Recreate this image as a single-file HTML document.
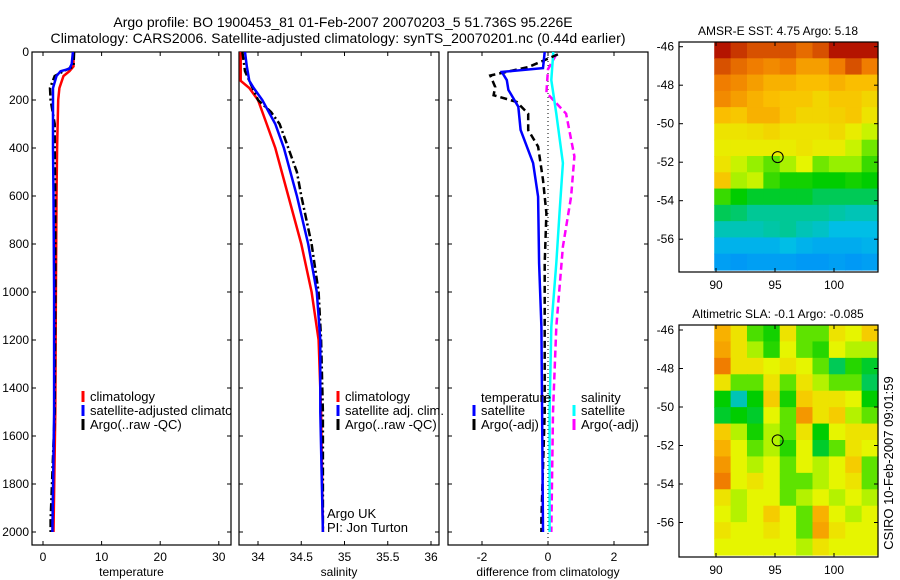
<!DOCTYPE html>
<html><head><meta charset="utf-8"><style>
html,body{margin:0;padding:0;background:#fff;}
svg{display:block;font-family:"Liberation Sans",sans-serif;}
</style></head><body>
<svg id="fig" width="900" height="580" viewBox="0 0 900 580">
<defs><clipPath id="clip1"><rect x="32" y="52" width="199" height="493"/></clipPath></defs>
<text x="343" y="27" font-size="14" text-anchor="middle">Argo profile: BO 1900453_81 01-Feb-2007 20070203_5 51.736S 95.226E</text>
<text x="338" y="43" font-size="14" text-anchor="middle" textLength="575">Climatology: CARS2006. Satellite-adjusted climatology: synTS_20070201.nc (0.44d earlier)</text>
<g id="g1"></g>
<g id="g1l" clip-path="url(#clip1)"></g>
<g id="g2"></g>
<g id="g3"></g>
<g id="m1"></g>
<g id="m2"></g>
<text transform="translate(893,463) rotate(-90)" font-size="13" text-anchor="middle">CSIRO 10-Feb-2007 09:01:59</text>
</svg>
<script>
// ---- data ----
const tDepth = [0,60,80,100,150,200,400,600,1000,1500,2000];
const tClim  = [5.2,5.2,4.5,3.5,2.8,2.6,2.4,2.3,2.2,2.1,1.8];
const tSatDepth = [0,50,70,80,100,150,200,400,600,1000,1500,2000];
const tSat   = [5.1,4.9,4.5,3.0,2.3,1.7,1.7,1.7,1.8,1.9,1.9,1.6];
const tArgoDepth = [0,60,80,100,150,200,300,400,600,1000,1500,1950,2000];
const tArgo  = [5.3,5.2,3.5,2.0,1.2,1.3,2.0,2.0,2.1,2.1,2.0,1.3,1.3];
const sDepth = [0,60,120,150,200,300,400,600,800,1000,1200,1500,2000];
const sClim  = [33.8,33.8,33.8,33.9,34.0,34.1,34.2,34.35,34.5,34.62,34.7,34.73,34.75];
const sSat   = [33.85,33.87,33.9,33.95,34.05,34.2,34.3,34.45,34.58,34.68,34.72,34.72,34.75];
const sArgoDepth = [0,80,200,250,300,400,500,600,800,1000,1200,1500,2000];
const sArgo  = [33.82,33.85,34.0,34.15,34.25,34.35,34.45,34.5,34.62,34.7,34.73,34.75,34.75];
const dTDepth = [0,67,83,117,158,228,325,463,603,880,1146,1500,2000];
const dTSat  = [-0.1,-0.15,-1.4,-1.25,-1.2,-0.9,-0.83,-0.45,-0.3,-0.27,-0.2,-0.18,-0.15];
const dTArgoDepth = [10,63,98,146,180,208,257,325,394,533,672,880,1500,1950,2000];
const dTArgo = [0.3,-0.6,-1.75,-1.6,-1.65,-0.95,-0.6,-0.6,-0.3,-0.15,-0.05,-0.1,-0.1,-0.2,-0.2];
const dSDepth = [0,117,257,463,672,880,1146,1500,2000];
const dSSat  = [0.16,0.1,0.25,0.45,0.35,0.25,0.1,0.05,0.05];
const dSArgoDepth = [10,72,169,257,435,603,811,1146,1500,2000];
const dSArgo = [0.25,0.0,-0.05,0.55,0.8,0.7,0.45,0.25,0.15,0.1];
const depthTicks = [0,200,400,600,800,1000,1200,1400,1600,1800,2000];
const tempTicks = [0,10,20,30];
const salTicks = [34,34.5,35,35.5,36];
const salTickLabels = ["34","34.5","35","35.5","36"];
const diffTicks = [-2,0,2];
const latTicks = [-46,-48,-50,-52,-54,-56];
const lonTicks = [90,95,100];
const sstGrid = [
[0.92,0.88,0.85,0.85,0.85,0.82,0.85,0.92,0.95,0.95],
[0.85,0.82,0.8,0.78,0.8,0.75,0.75,0.8,0.85,0.8],
[0.8,0.78,0.75,0.72,0.72,0.7,0.7,0.72,0.7,0.7],
[0.78,0.75,0.72,0.7,0.68,0.68,0.65,0.68,0.68,0.65],
[0.7,0.68,0.72,0.72,0.68,0.65,0.65,0.66,0.68,0.62],
[0.62,0.62,0.63,0.65,0.62,0.62,0.62,0.64,0.6,0.55],
[0.6,0.6,0.6,0.6,0.6,0.62,0.6,0.6,0.55,0.48],
[0.62,0.55,0.5,0.47,0.52,0.58,0.48,0.5,0.5,0.45],
[0.68,0.52,0.55,0.45,0.43,0.43,0.42,0.42,0.43,0.42],
[0.45,0.42,0.4,0.4,0.4,0.4,0.38,0.38,0.38,0.38],
[0.38,0.37,0.35,0.35,0.35,0.35,0.35,0.34,0.33,0.33],
[0.33,0.33,0.33,0.34,0.35,0.33,0.32,0.3,0.3,0.3],
[0.28,0.28,0.28,0.28,0.3,0.28,0.27,0.27,0.27,0.28],
[0.25,0.24,0.25,0.25,0.25,0.24,0.24,0.25,0.24,0.25]];
const slaGrid = [
[0.72,0.62,0.46,0.43,0.62,0.47,0.47,0.62,0.58,0.67],
[0.74,0.62,0.52,0.44,0.58,0.47,0.44,0.58,0.53,0.53],
[0.8,0.62,0.62,0.58,0.62,0.58,0.47,0.38,0.44,0.4],
[0.62,0.47,0.47,0.62,0.47,0.62,0.53,0.47,0.47,0.38],
[0.42,0.33,0.42,0.67,0.43,0.67,0.62,0.62,0.58,0.42],
[0.4,0.42,0.4,0.58,0.47,0.76,0.62,0.67,0.53,0.47],
[0.67,0.53,0.43,0.53,0.47,0.62,0.42,0.58,0.62,0.62],
[0.72,0.58,0.47,0.53,0.44,0.58,0.4,0.47,0.62,0.58],
[0.76,0.58,0.53,0.58,0.47,0.58,0.53,0.58,0.67,0.47],
[0.8,0.58,0.62,0.58,0.47,0.47,0.53,0.58,0.62,0.47],
[0.62,0.53,0.58,0.58,0.47,0.53,0.58,0.53,0.58,0.53],
[0.58,0.53,0.58,0.67,0.58,0.47,0.72,0.58,0.53,0.58],
[0.62,0.58,0.58,0.62,0.58,0.47,0.74,0.62,0.58,0.58],
[0.58,0.58,0.58,0.58,0.58,0.53,0.62,0.58,0.58,0.58]];
const argoLon = 95.226, argoLat = -51.736;

// ---- helpers ----
const NS="http://www.w3.org/2000/svg";
function mk(tag, attrs, parent){const e=document.createElementNS(NS,tag);for(const k in attrs)e.setAttribute(k,attrs[k]);parent.appendChild(e);return e;}
function yD(d){return 52+d*0.24;}
function axisBox(g,x0,x1,y0,y1){
  const r=mk('rect',{x:x0,y:y0,width:x1-x0,height:y1-y0,fill:'none',stroke:'#000','stroke-width':1.2},g);
  
  
}
function profilePanel(g,x0,x1,xs,xt,xtl,label,depthLabels){
  axisBox(g,x0,x1,52,545);
  depthTicks.forEach(d=>{
    const y=yD(d);
    mk('line',{x1:x0,x2:x0+4,y1:y,y2:y,stroke:'#000'},g);
    mk('line',{x1:x1-4,x2:x1,y1:y,y2:y,stroke:'#000'},g);
    if(depthLabels){const t=mk('text',{x:x0-3,y:y+4,'font-size':12,'text-anchor':'end'},g);t.textContent=d;
      
      }
  });
  xt.forEach((v,i)=>{
    const x=xs(v);
    mk('line',{x1:x,x2:x,y1:545,y2:541,stroke:'#000'},g);
    mk('line',{x1:x,x2:x,y1:52,y2:56,stroke:'#000'},g);
    const t=mk('text',{x:x,y:561,'font-size':12,'text-anchor':'middle'},g);t.textContent=xtl[i];
    
    
  });
  const t=mk('text',{x:(x0+x1)/2,y:576,'font-size':12,'text-anchor':'middle'},g);t.textContent=label;
  
  
}
function line(g,xs,vals,depths,color,dash,name){
  const pts=vals.map((v,i)=>xs(v).toFixed(1)+','+yD(depths[i]).toFixed(1)).join(' ');
  const a={points:pts,fill:'none',stroke:color,'stroke-width':2.5};
  if(dash)a['stroke-dasharray']=dash;
  const p=mk('polyline',a,g);
  
  
}
function legend(g,x,y,color,text,name){
  mk('line',{x1:x,x2:x,y1:y-7,y2:y+4,stroke:color,'stroke-width':3},g);
  const t=mk('text',{x:x+7,y:y+3,'font-size':13},g);t.textContent=text;
  
  
}
function txt(g,x,y,s,name){const t=mk('text',{x:x,y:y,'font-size':13},g);t.textContent=s;
  
  }

// ---- panel 1 temperature ----
const g1=document.getElementById('g1');
const g1l=document.getElementById('g1l');
const xT=v=>43+v*5.86;
profilePanel(g1,32,231,xT,tempTicks,tempTicks.map(String),'temperature',true);
line(g1,xT,tClim,tDepth,'#f00',null,'climatology-temp-line');
line(g1,xT,tArgo,tArgoDepth,'#000','8,3,2,3','argo-temp-line');
line(g1,xT,tSat,tSatDepth,'#00f',null,'satellite-temp-line');
legend(g1l,83,398,'#f00','climatology','legend-climatology');
legend(g1l,83,412,'#00f','satellite-adjusted climatology','legend-satellite');
legend(g1l,83,426,'#000','Argo(..raw -QC)','legend-argo');

// ---- panel 2 salinity ----
const g2=document.getElementById('g2');
const xS=v=>258+(v-34)*86.5;
profilePanel(g2,239,439,xS,salTicks,salTickLabels,'salinity',false);
line(g2,xS,sClim,sDepth,'#f00',null,'climatology-sal-line');
line(g2,xS,sArgo,sArgoDepth,'#000','8,3,2,3','argo-sal-line');
line(g2,xS,sSat,sDepth,'#00f',null,'satellite-sal-line');
legend(g2,338,398,'#f00','climatology','legend-climatology-sal');
legend(g2,338,412,'#00f','satellite adj. clim.','legend-satellite-sal');
legend(g2,338,426,'#000','Argo(..raw -QC)','legend-argo-sal');
txt(g2,327,518,'Argo UK','argo-uk-label');
txt(g2,327,532,'PI: Jon Turton','pi-label');

// ---- panel 3 differences ----
const g3=document.getElementById('g3');
const xDf=v=>548+v*33;
profilePanel(g3,448,648,xDf,diffTicks,diffTicks.map(String),'difference from climatology',false);
mk('line',{x1:548,x2:548,y1:53,y2:544,stroke:'#000','stroke-dasharray':'1,3'},g3);
line(g3,xDf,dSArgo,dSArgoDepth,'#f0f','7,4','argo-sal-diff-line');
line(g3,xDf,dSSat,dSDepth,'#0ff',null,'satellite-sal-diff-line');
line(g3,xDf,dTArgo,dTArgoDepth,'#000','7,4','argo-temp-diff-line');
line(g3,xDf,dTSat,dTDepth,'#00f',null,'satellite-temp-diff-line');
txt(g3,481,402,'temperature','legend-temperature-heading');
legend(g3,474,412,'#00f','satellite','legend-temp-satellite');
legend(g3,474,426,'#000','Argo(-adj)','legend-temp-argo');
txt(g3,581,402,'salinity','legend-salinity-heading');
legend(g3,574,412,'#0ff','satellite','legend-sal-satellite');
legend(g3,574,426,'#f0f','Argo(-adj)','legend-sal-argo');

// ---- maps ----
const stops=[[0.2,[0,128,255]],[0.3,[0,190,230]],[0.35,[0,200,150]],[0.42,[0,205,0]],[0.5,[150,240,0]],[0.58,[230,245,0]],[0.7,[250,190,0]],[0.8,[240,125,0]],[0.92,[180,20,0]]];
function cmap(v){
  if(v<=stops[0][0])return 'rgb('+stops[0][1]+')';
  for(let i=1;i<stops.length;i++){if(v<=stops[i][0]){const a=stops[i-1],b=stops[i],f=(v-a[0])/(b[0]-a[0]);
    return 'rgb('+a[1].map((c,j)=>Math.round(c+(b[1][j]-c)*f)).join(',')+')';}}
  return 'rgb('+stops[stops.length-1][1]+')';
}
function mapPanel(id,grid,top,bottom,lat46y,title){
  const g=document.getElementById(id);
  const pxDeg=19.25;
  const yL=l=>lat46y+(-46-l)*pxDeg;
  const xL=l=>716+(l-90)*11.8;
  const ix0=xL(89.85),ix1=878,iy0=top,iy1=bottom-2;
  const rows=grid.length,cols=grid[0].length;
  const cw=(ix1-ix0)/cols,ch=(iy1-iy0)/rows;
  grid.forEach((row,r)=>row.forEach((v,c)=>{
    const cell=mk('rect',{x:(ix0+c*cw).toFixed(2),y:(iy0+r*ch).toFixed(2),width:(cw+0.6).toFixed(2),height:(ch+0.6).toFixed(2),fill:cmap(v)},g);
    
    
  }));
  axisBox(g,679,878,top,bottom);
  latTicks.forEach(l=>{const y=yL(l);
    mk('line',{x1:679,x2:683,y1:y,y2:y,stroke:'#000'},g);
    mk('line',{x1:874,x2:878,y1:y,y2:y,stroke:'#000'},g);
    const t=mk('text',{x:674,y:y+4,'font-size':12,'text-anchor':'end'},g);t.textContent=l;
    
    });
  lonTicks.forEach(l=>{const x=xL(l);
    mk('line',{x1:x,x2:x,y1:bottom,y2:bottom-4,stroke:'#000'},g);
    mk('line',{x1:x,x2:x,y1:top,y2:top+4,stroke:'#000'},g);
    const t=mk('text',{x:x,y:bottom+17,'font-size':12,'text-anchor':'middle'},g);t.textContent=l;
    
    });
  const c=mk('circle',{cx:xL(argoLon),cy:yL(argoLat),r:5.5,fill:'none',stroke:'#000','stroke-width':1},g);
  
  
  const t=mk('text',{x:778,y:top-7,'font-size':12,'text-anchor':'middle'},g);t.textContent=title;
  
  
}
mapPanel('m1',sstGrid,42,272,46.7,'AMSR-E SST: 4.75 Argo: 5.18');
mapPanel('m2',slaGrid,325,557,330,'Altimetric SLA: -0.1 Argo: -0.085');
</script>
</body></html>
